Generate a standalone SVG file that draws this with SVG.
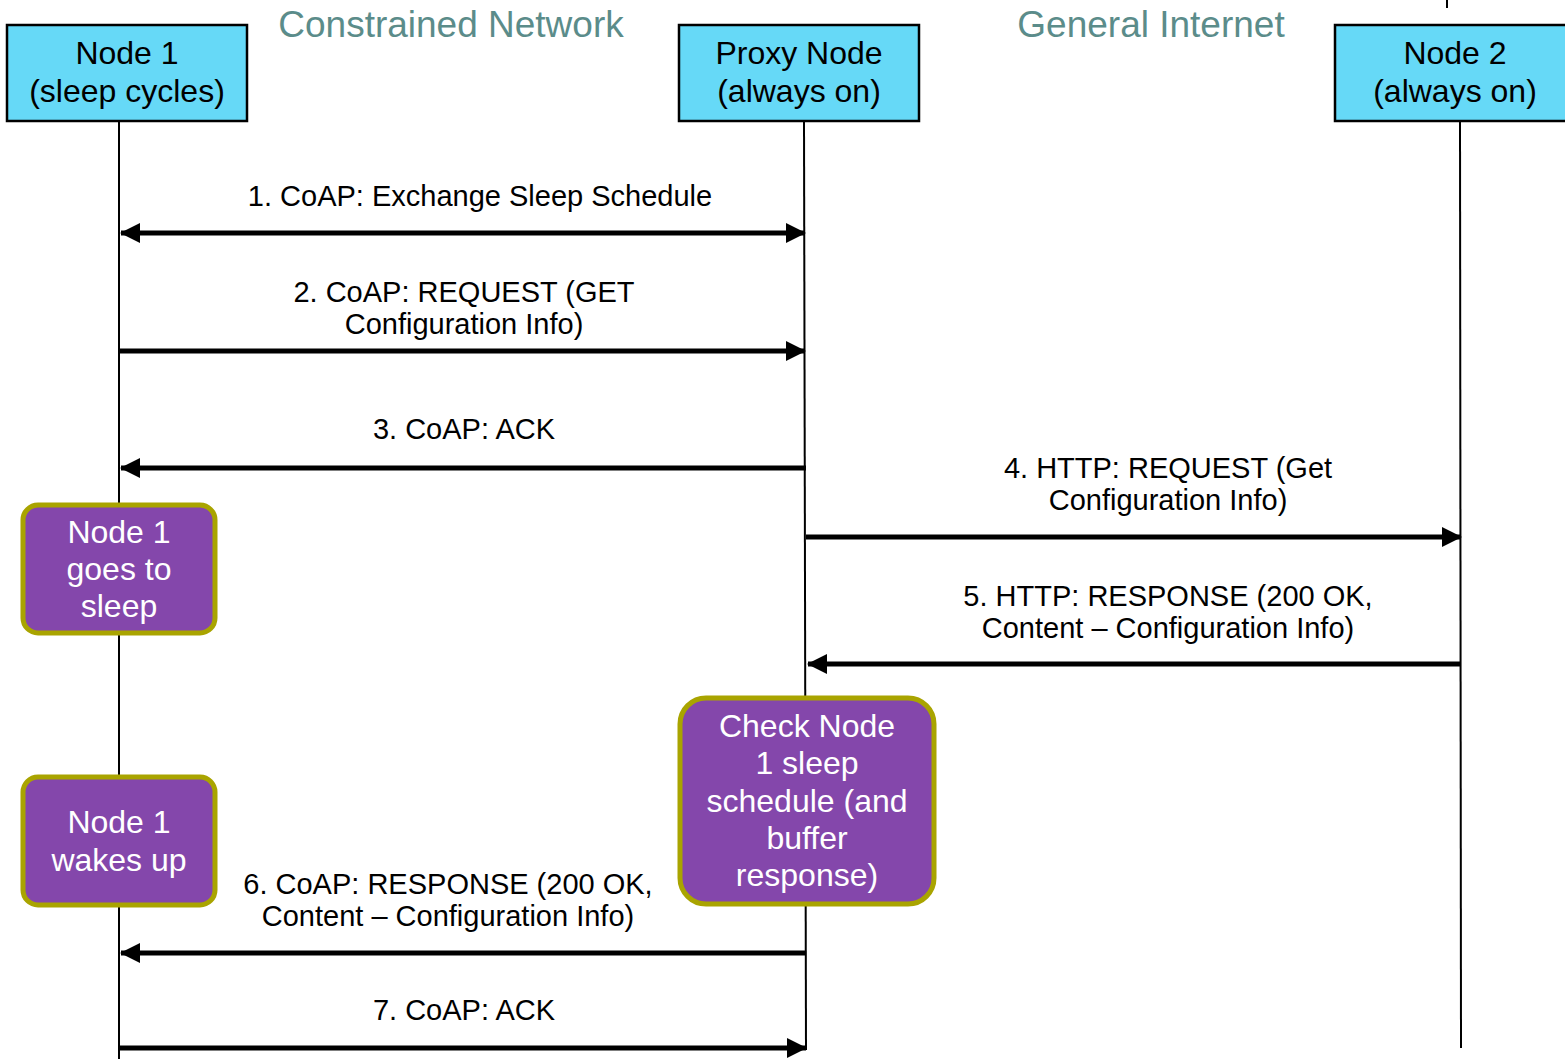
<svg xmlns="http://www.w3.org/2000/svg" width="1565" height="1059" viewBox="0 0 1565 1059">
  <style>
    text { font-family: "Liberation Sans", Arial, sans-serif; text-anchor: middle; }
    .title { font-size: 37px; fill: #5b8c8a; }
    .head { fill: #66d9f7; stroke: #000; stroke-width: 2.5; }
    .headtxt { font-size: 32px; fill: #000; }
    .life { stroke: #000; stroke-width: 2; fill: none; }
    .note { fill: #8447ab; stroke: #a9a400; stroke-width: 5; }
    .notetxt { font-size: 32px; fill: #fff; }
    .msg { stroke: #000; stroke-width: 5; fill: none; }
    .msgtxt { font-size: 29px; fill: #000; }
  </style>
  <defs>
    <marker id="arrowEnd" viewBox="0 0 20 20" refX="19" refY="10" markerUnits="userSpaceOnUse" markerWidth="20" markerHeight="20" orient="auto">
      <path d="M0,0 L20,10 L0,20 Z" fill="#000"/>
    </marker>
    <marker id="arrowStart" viewBox="0 0 20 20" refX="1" refY="10" markerUnits="userSpaceOnUse" markerWidth="20" markerHeight="20" orient="auto">
      <path d="M20,0 L0,10 L20,20 Z" fill="#000"/>
    </marker>
  </defs>

  <rect width="1565" height="1059" fill="#fff"/>

  <!-- region titles -->
  <text class="title" x="451" y="37">Constrained Network</text>
  <text class="title" x="1151" y="37">General Internet</text>

  <!-- lifelines -->
  <g id="lifelines">
    <line class="life" x1="119" y1="121" x2="119" y2="1059"/>
    <line class="life" x1="804" y1="121" x2="806" y2="1050"/>
    <line class="life" x1="1460" y1="121" x2="1461" y2="1048"/>
    <line class="life" x1="1447" y1="0" x2="1447" y2="8"/>
  </g>

  <!-- participants -->
  <g id="node1">
    <rect class="head" x="7" y="25" width="240" height="96"/>
    <text class="headtxt" x="127" y="64">Node 1</text>
    <text class="headtxt" x="127" y="102">(sleep cycles)</text>
  </g>
  <g id="proxy">
    <rect class="head" x="679" y="25" width="240" height="96"/>
    <text class="headtxt" x="799" y="64">Proxy Node</text>
    <text class="headtxt" x="799" y="102">(always on)</text>
  </g>
  <g id="node2">
    <rect class="head" x="1335" y="25" width="240" height="96"/>
    <text class="headtxt" x="1455" y="64">Node 2</text>
    <text class="headtxt" x="1455" y="102">(always on)</text>
  </g>

  <!-- messages -->
  <g id="connectors">
    <line class="msg" x1="121" y1="233" x2="805" y2="233" marker-start="url(#arrowStart)" marker-end="url(#arrowEnd)"/>
    <line class="msg" x1="119" y1="351" x2="805" y2="351" marker-end="url(#arrowEnd)"/>
    <line class="msg" x1="806" y1="468" x2="121" y2="468" marker-end="url(#arrowEnd)"/>
    <line class="msg" x1="806" y1="537" x2="1461" y2="537" marker-end="url(#arrowEnd)"/>
    <line class="msg" x1="1461" y1="664" x2="808" y2="664" marker-end="url(#arrowEnd)"/>
    <line class="msg" x1="806" y1="953" x2="121" y2="953" marker-end="url(#arrowEnd)"/>
    <line class="msg" x1="119" y1="1048" x2="806" y2="1048" marker-end="url(#arrowEnd)"/>
  </g>

  <!-- message labels -->
  <g id="labels">
    <text class="msgtxt" x="480" y="206">1. CoAP: Exchange Sleep Schedule</text>
    <text class="msgtxt" x="464" y="302">2. CoAP: REQUEST (GET</text>
    <text class="msgtxt" x="464" y="334">Configuration Info)</text>
    <text class="msgtxt" x="464" y="439">3. CoAP: ACK</text>
    <text class="msgtxt" x="1168" y="478">4. HTTP: REQUEST (Get</text>
    <text class="msgtxt" x="1168" y="510">Configuration Info)</text>
    <text class="msgtxt" x="1168" y="606">5. HTTP: RESPONSE (200 OK,</text>
    <text class="msgtxt" x="1168" y="638">Content – Configuration Info)</text>
    <text class="msgtxt" x="448" y="894">6. CoAP: RESPONSE (200 OK,</text>
    <text class="msgtxt" x="448" y="926">Content – Configuration Info)</text>
    <text class="msgtxt" x="464" y="1020">7. CoAP: ACK</text>
  </g>

  <!-- state notes -->
  <g id="note-sleep">
    <rect class="note" x="23" y="505" width="192" height="128" rx="15"/>
    <text class="notetxt" x="119" y="543">Node 1</text>
    <text class="notetxt" x="119" y="580">goes to</text>
    <text class="notetxt" x="119" y="617">sleep</text>
  </g>
  <g id="note-wake">
    <rect class="note" x="23" y="777" width="192" height="128" rx="15"/>
    <text class="notetxt" x="119" y="833">Node 1</text>
    <text class="notetxt" x="119" y="871">wakes up</text>
  </g>
  <g id="note-check">
    <rect class="note" x="680" y="698" width="254" height="206" rx="26"/>
    <text class="notetxt" x="807" y="737">Check Node</text>
    <text class="notetxt" x="807" y="774">1 sleep</text>
    <text class="notetxt" x="807" y="812">schedule (and</text>
    <text class="notetxt" x="807" y="849">buffer</text>
    <text class="notetxt" x="807" y="886">response)</text>
  </g>
</svg>
